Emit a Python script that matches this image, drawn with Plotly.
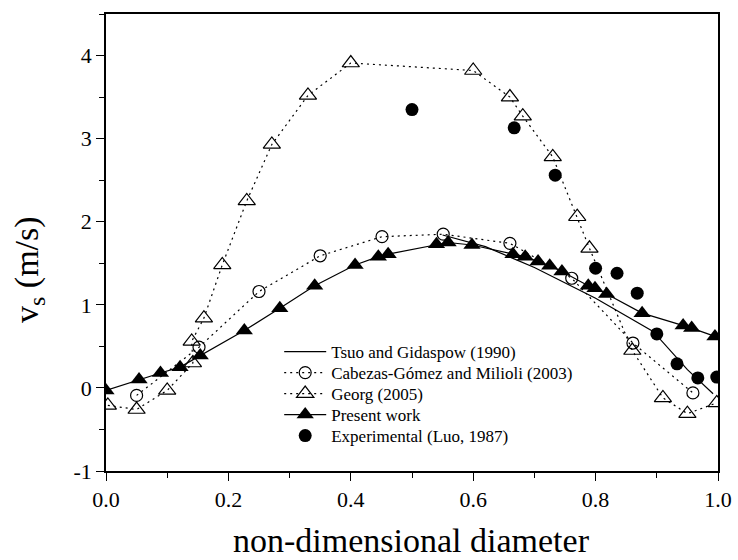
import plotly.graph_objects as go

# Tsuo and Gidaspow (1990) - solid line, no markers
tsuo_x = [0.55, 0.62, 0.70, 0.80, 0.894, 0.95, 0.992]
tsuo_y = [1.84, 1.70, 1.45, 1.08, 0.68, 0.22, -0.07]

# Cabezas-Gómez and Milioli (2003)
cab_x = [0.05, 0.152, 0.25, 0.35, 0.451, 0.551, 0.66, 0.761, 0.861, 0.959]
cab_y = [-0.09, 0.49, 1.16, 1.59, 1.82, 1.85, 1.74, 1.32, 0.54, -0.06]

# Georg (2005)
georg_x = [0.003, 0.05, 0.10, 0.142, 0.14, 0.16, 0.19, 0.23, 0.271, 0.33, 0.40,
           0.60, 0.66, 0.681, 0.73, 0.77, 0.79, 0.86, 0.91, 0.95, 0.998]
georg_y = [-0.21, -0.26, -0.03, 0.30, 0.56, 0.84, 1.48, 2.25, 2.93, 3.52, 3.91,
           3.82, 3.50, 3.27, 2.78, 2.06, 1.68, 0.45, -0.12, -0.31, -0.18]

# Present work
pres_x = [0.0, 0.054, 0.089, 0.121, 0.154, 0.226, 0.284, 0.341, 0.407, 0.445, 0.461,
          0.54, 0.559, 0.598, 0.665, 0.685, 0.706, 0.725, 0.745, 0.788, 0.799, 0.818,
          0.876, 0.943, 0.957, 0.995]
pres_y = [-0.03, 0.10, 0.18, 0.25, 0.39, 0.69, 0.96, 1.23, 1.48, 1.58, 1.61,
          1.73, 1.75, 1.72, 1.61, 1.58, 1.52, 1.47, 1.40, 1.23, 1.20, 1.13,
          0.90, 0.75, 0.72, 0.62]

# Experimental (Luo, 1987)
exp_x = [0.50, 0.667, 0.734, 0.80, 0.835, 0.868, 0.90, 0.933, 0.967, 0.998]
exp_y = [3.35, 3.13, 2.56, 1.44, 1.38, 1.14, 0.65, 0.29, 0.12, 0.13]

# Tick labels
x_tickvals = [0.0, 0.2, 0.4, 0.6, 0.8, 1.0]
x_ticktext = ["0.0", "0.2", "0.4", "0.6", "0.8", "1.0"]
y_tickvals = [-1, 0, 1, 2, 3, 4]
y_ticktext = ["-1", "0", "1", "2", "3", "4"]

DOT = "2px,4px"
SERIF = "Liberation Serif"

fig = go.Figure()
fig.add_trace(go.Scatter(x=tsuo_x, y=tsuo_y, mode="lines", name="Tsuo and Gidaspow (1990)",
                         legend="legend",
                         line=dict(color="black", width=1.2)))
fig.add_trace(go.Scatter(x=cab_x, y=cab_y, mode="lines+markers",
                         name="Cabezas-Gómez and Milioli (2003)", legend="legend2",
                         line=dict(color="black", width=1.2, dash=DOT),
                         marker=dict(symbol="circle-open", size=12, color="black",
                                     line=dict(width=1.2))))
fig.add_trace(go.Scatter(x=georg_x, y=georg_y, mode="lines+markers", name="Georg (2005)",
                         legend="legend3",
                         line=dict(color="black", width=1.2, dash=DOT),
                         marker=dict(symbol="triangle-up-open", size=15, color="black",
                                     line=dict(width=1.2))))
fig.add_trace(go.Scatter(x=pres_x, y=pres_y, mode="lines+markers", name="Present work",
                         legend="legend4",
                         line=dict(color="black", width=1.2),
                         marker=dict(symbol="triangle-up", size=15, color="black")))
fig.add_trace(go.Scatter(x=exp_x, y=exp_y, mode="markers", name="Experimental (Luo, 1987)",
                         legend="legend5",
                         marker=dict(symbol="circle", size=13, color="black")))

axis_common = dict(showline=True, linecolor="black", linewidth=1.5, mirror=True,
                   ticks="outside", tickcolor="black", tickwidth=1.2, ticklen=8,
                   showgrid=False, zeroline=False, automargin=False,
                   tickfont=dict(family=SERIF, size=22, color="black"))

fig.update_xaxes(range=[0, 1.0], tickmode="array", tickvals=x_tickvals, ticktext=x_ticktext,
                 minor=dict(ticks="outside", ticklen=5, tickcolor="black", tickwidth=1.2,
                            tickmode="linear", tick0=0, dtick=0.1),
                 **axis_common)
fig.update_yaxes(range=[-1, 4.5], tickmode="array", tickvals=y_tickvals, ticktext=y_ticktext,
                 minor=dict(ticks="outside", ticklen=5, tickcolor="black", tickwidth=1.2,
                            tickmode="linear", tick0=0, dtick=0.5),
                 **axis_common)

fig.add_annotation(text="v<sub>s</sub> (m/s)", xref="paper", yref="paper",
                   x=0, y=0.44, xanchor="center", yanchor="middle", xshift=-77,
                   textangle=-90, showarrow=False,
                   font=dict(family=SERIF, size=34, color="black"))
fig.add_annotation(text="non-dimensional diameter", xref="paper", yref="paper",
                   x=0.5, y=0, xanchor="center", yanchor="middle", yshift=-69, xshift=-1,
                   showarrow=False,
                   font=dict(family=SERIF, size=34, color="black"))

row_y = [0.2604, 0.2144, 0.1685, 0.1225, 0.0766]
leg_common = dict(x=0.283, xanchor="left", yanchor="middle",
                  bgcolor="rgba(0,0,0,0)", borderwidth=0,
                  font=dict(family=SERIF, size=17, color="black"),
                  tracegroupgap=0, itemwidth=42)

fig.update_layout(
    width=738, height=560,
    margin=dict(l=106, r=20, t=14, b=89),
    plot_bgcolor="white", paper_bgcolor="white",
    showlegend=True,
    legend=dict(y=row_y[0], **leg_common),
    legend2=dict(y=row_y[1], **leg_common),
    legend3=dict(y=row_y[2], **leg_common),
    legend4=dict(y=row_y[3], **leg_common),
    legend5=dict(y=row_y[4], **leg_common),
)

fig.write_html("out.html", config={"displayModeBar": False},
               post_script="document.body.style.margin='0px';")
